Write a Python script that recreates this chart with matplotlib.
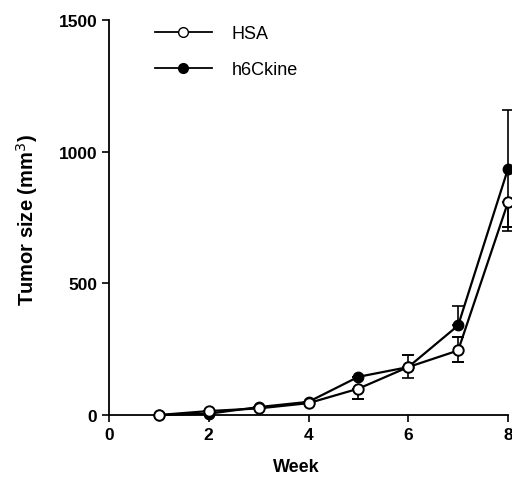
import matplotlib.pyplot as plt
from matplotlib.lines import Line2D

# Tumor growth data
weeks = [1, 2, 3, 4, 5, 6, 7, 8]
hsa = [0, 15, 25, 45, 100, 182, 245, 808]
h6ckine = [0, 5, 30, 50, 145, 182, 340, 935]

# asymmetric error bars (lower, upper)
hsa_err_low = [0, 0, 0, 0, 40, 0, 45, 95]
hsa_err_up = [0, 0, 0, 0, 0, 45, 50, 0]
h6_err_low = [0, 0, 0, 0, 0, 42, 0, 235]
h6_err_up = [0, 0, 0, 0, 0, 0, 75, 225]

plt.rcParams["font.family"] = ["Liberation Sans", "DejaVu Sans"]

fig = plt.figure(figsize=(5.12, 4.85), dpi=100)
ax = fig.add_axes([109 / 512, 69 / 485, 399 / 512, 395 / 485])

ax.errorbar(weeks, h6ckine, yerr=[h6_err_low, h6_err_up], color="black",
            marker="o", markersize=7.5, markerfacecolor="black",
            markeredgecolor="black", linewidth=1.6, elinewidth=1.2,
            capsize=4, capthick=1.2, clip_on=False, zorder=3)
ax.errorbar(weeks, hsa, yerr=[hsa_err_low, hsa_err_up], color="black",
            marker="o", markersize=7.5, markerfacecolor="white",
            markeredgecolor="black", markeredgewidth=1.4, linewidth=1.6,
            elinewidth=1.2, capsize=4, capthick=1.2, clip_on=False, zorder=4)

ax.set_xlim(0, 8)
ax.set_ylim(0, 1500)
ax.set_xticks([0, 2, 4, 6, 8])
ax.set_yticks([0, 500, 1000, 1500])
ax.spines["top"].set_visible(False)
ax.spines["right"].set_visible(False)
ax.spines["left"].set_linewidth(1.3)
ax.spines["bottom"].set_linewidth(1.3)
ax.tick_params(direction="out", length=5, width=1.2, labelsize=12.5)
for lab in ax.get_xticklabels() + ax.get_yticklabels():
    lab.set_fontweight("bold")

ax.set_xlabel("Week", fontsize=13, fontweight="bold")
ax.xaxis.set_label_coords((296 - 109) / 399, -(459 - 416) / 395)
ax.set_ylabel("Tumor size (mm$^{3}$)", fontsize=14.5, fontweight="bold")
ax.yaxis.set_label_coords(-(109 - 40) / 399, (416 - 220) / 395)

handles = [
    Line2D([], [], color="black", linewidth=1.3, marker="o", markersize=7,
           markerfacecolor="white", markeredgecolor="black"),
    Line2D([], [], color="black", linewidth=1.3, marker="o", markersize=7,
           markerfacecolor="black", markeredgecolor="black"),
]
fig.legend(handles, ["HSA", "h6Ckine"], loc="upper left",
           bbox_to_anchor=(155 / 512, 1 - 26 / 485), frameon=False,
           fontsize=13, handlelength=3.15, labelspacing=1.05,
           handletextpad=1.1, borderpad=0, borderaxespad=0)

plt.savefig("out.png", dpi=100)
